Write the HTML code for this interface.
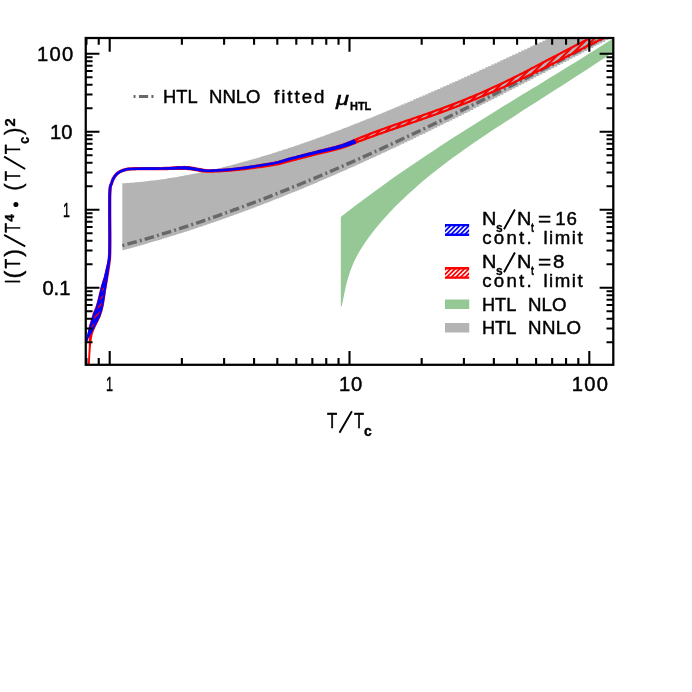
<!DOCTYPE html><html><head><meta charset="utf-8"><title>chart</title><style>
html,body{margin:0;padding:0;background:#fff}
#w{position:relative;width:692px;height:692px;overflow:hidden;background:#fff;font-family:"Liberation Sans",sans-serif;color:#000}
.t{position:absolute;white-space:pre;line-height:1;transform-origin:0 0}
</style></head><body><div id="w">
<svg width="692" height="692" viewBox="0 0 692 692" style="position:absolute;left:0;top:0">
<defs><clipPath id="cp"><rect x="85.75" y="38" width="527.55" height="326.8"/></clipPath>
</defs>
<rect width="692" height="692" fill="#fff"/>
<g clip-path="url(#cp)">
<path d="M122.30,183.33V183.33H124.10V183.20H125.90V183.07H127.70V182.94H129.50V182.80H131.30V182.67H133.10V182.53H134.90V182.35H136.70V182.17H138.50V182.00H140.30V181.82H142.10V181.65H143.90V181.47H145.70V181.25H147.50V181.04H149.30V180.82H151.10V180.60H152.90V180.39H154.70V180.17H156.50V179.92H158.30V179.66H160.10V179.41H161.90V179.15H163.70V178.89H165.50V178.64H167.30V178.36H169.10V178.07H170.90V177.77H172.70V177.48H174.50V177.18H176.30V176.89H178.10V176.58H179.90V176.25H181.70V175.92H183.50V175.59H185.30V175.26H187.10V174.93H188.90V174.60H190.70V174.23H192.50V173.87H194.30V173.50H196.10V173.14H197.90V172.77H199.70V172.41H201.50V172.01H203.30V171.62H205.10V171.22H206.90V170.82H208.70V170.42H210.50V170.02H212.30V169.61H214.10V169.18H215.90V168.75H217.70V168.32H219.50V167.89H221.30V167.46H223.10V167.02H224.90V166.56H226.70V166.10H228.50V165.64H230.30V165.18H232.10V164.72H233.90V164.25H235.70V163.77H237.50V163.28H239.30V162.79H241.10V162.30H242.90V161.81H244.70V161.33H246.50V160.81H248.30V160.30H250.10V159.78H251.90V159.27H253.70V158.75H255.50V158.24H257.30V157.70H259.10V157.16H260.90V156.62H262.70V156.08H264.50V155.54H266.30V155.00H268.10V154.44H269.90V153.88H271.70V153.31H273.50V152.75H275.30V152.18H277.10V151.62H278.90V151.05H280.70V150.46H282.50V149.87H284.30V149.28H286.10V148.69H287.90V148.10H289.70V147.51H291.50V146.90H293.30V146.29H295.10V145.68H296.90V145.07H298.70V144.46H300.50V143.85H302.30V143.22H304.10V142.59H305.90V141.96H307.70V141.33H309.50V140.70H311.30V140.07H313.10V139.43H314.90V138.77H316.70V138.12H318.50V137.47H320.30V136.82H322.10V136.17H323.90V135.52H325.70V134.85H327.50V134.18H329.30V133.51H331.10V132.84H332.90V132.17H334.70V131.50H336.50V130.81H338.30V130.13H340.10V129.44H341.90V128.76H343.70V128.07H345.50V127.38H347.30V126.68H349.10V125.98H350.90V125.28H352.70V124.58H354.50V123.87H356.30V123.17H358.10V122.46H359.90V121.74H361.70V121.02H363.50V120.31H365.30V119.59H367.10V118.87H368.90V118.15H370.70V117.42H372.50V116.69H374.30V115.95H376.10V115.22H377.90V114.49H379.70V113.76H381.50V113.01H383.30V112.27H385.10V111.52H386.90V110.78H388.70V110.03H390.50V109.29H392.30V108.53H394.10V107.78H395.90V107.02H397.70V106.26H399.50V105.51H401.30V104.50H404.30V103.22H407.30V101.93H410.30V100.65H413.30V99.37H416.30V98.07H419.30V96.77H422.30V95.48H425.30V94.17H428.30V92.86H431.30V91.54H434.30V90.23H437.30V88.90H440.30V87.57H443.30V86.24H446.30V84.91H449.30V83.57H452.30V82.23H455.30V80.89H458.30V79.54H461.30V78.19H464.30V76.83H467.30V75.48H470.30V74.12H473.30V72.75H476.30V71.38H479.30V70.02H482.30V68.64H485.30V67.27H488.30V65.89H491.30V64.51H494.30V63.13H497.30V61.74H500.30V60.36H503.30V58.97H506.30V57.58H509.30V56.18H512.30V54.79H515.30V53.39H518.30V51.99H521.30V50.59H524.30V49.19H527.30V47.78H530.30V46.37H533.30V44.96H536.30V43.55H539.30V42.14H542.30V40.73H545.30V39.31H548.30V37.90H551.30V36.48H554.30V35.06H557.30V33.64H560.30V32.22H563.30V30.79H566.30V29.37H569.30V27.95H572.30V26.52H575.30V25.09H578.30V23.66H581.30V22.24H584.30V20.81H587.30V19.37H590.30V17.94H593.30V16.51H596.30V15.08H599.30V13.64H602.30V12.21H605.30V10.77H608.30V9.33H611.30V8.45H612.00V37.54H611.30V38.51H608.30V40.07H605.30V41.63H602.30V43.19H599.30V44.76H596.30V46.32H593.30V47.89H590.30V49.45H587.30V51.02H584.30V52.58H581.30V54.15H578.30V55.72H575.30V57.28H572.30V58.85H569.30V60.41H566.30V61.98H563.30V63.55H560.30V65.11H557.30V66.67H554.30V68.24H551.30V69.80H548.30V71.36H545.30V72.92H542.30V74.48H539.30V76.04H536.30V77.60H533.30V79.15H530.30V80.71H527.30V82.26H524.30V83.82H521.30V85.36H518.30V86.91H515.30V88.46H512.30V90.01H509.30V91.55H506.30V93.09H503.30V94.63H500.30V96.17H497.30V97.70H494.30V99.23H491.30V100.76H488.30V102.29H485.30V103.81H482.30V105.33H479.30V106.85H476.30V108.37H473.30V109.88H470.30V111.39H467.30V112.90H464.30V114.40H461.30V115.91H458.30V117.40H455.30V118.89H452.30V120.39H449.30V121.88H446.30V123.36H443.30V124.84H440.30V126.32H437.30V127.79H434.30V129.26H431.30V130.72H428.30V132.18H425.30V133.65H422.30V135.09H419.30V136.54H416.30V137.99H413.30V139.43H410.30V140.87H407.30V142.29H404.30V143.72H401.30V144.86H399.50V145.72H397.70V146.57H395.90V147.41H394.10V148.26H392.30V149.10H390.50V149.95H388.70V150.79H386.90V151.64H385.10V152.47H383.30V153.30H381.50V154.14H379.70V154.97H377.90V155.80H376.10V156.64H374.30V157.47H372.50V158.29H370.70V159.11H368.90V159.93H367.10V160.75H365.30V161.57H363.50V162.39H361.70V163.21H359.90V164.02H358.10V164.82H356.30V165.63H354.50V166.44H352.70V167.24H350.90V168.05H349.10V168.86H347.30V169.65H345.50V170.44H343.70V171.23H341.90V172.03H340.10V172.82H338.30V173.61H336.50V174.40H334.70V175.18H332.90V175.96H331.10V176.74H329.30V177.52H327.50V178.29H325.70V179.07H323.90V179.85H322.10V180.61H320.30V181.37H318.50V182.14H316.70V182.90H314.90V183.66H313.10V184.43H311.30V185.19H309.50V185.94H307.70V186.68H305.90V187.43H304.10V188.18H302.30V188.93H300.50V189.67H298.70V190.42H296.90V191.15H295.10V191.88H293.30V192.61H291.50V193.34H289.70V194.08H287.90V194.81H286.10V195.54H284.30V196.25H282.50V196.97H280.70V197.68H278.90V198.40H277.10V199.11H275.30V199.83H273.50V200.54H271.70V201.24H269.90V201.93H268.10V202.63H266.30V203.33H264.50V204.03H262.70V204.73H260.90V205.42H259.10V206.10H257.30V206.78H255.50V207.46H253.70V208.15H251.90V208.83H250.10V209.51H248.30V210.18H246.50V210.85H244.70V211.51H242.90V212.17H241.10V212.84H239.30V213.50H237.50V214.16H235.70V214.82H233.90V215.47H232.10V216.11H230.30V216.76H228.50V217.40H226.70V218.05H224.90V218.69H223.10V219.33H221.30V219.96H219.50V220.59H217.70V221.21H215.90V221.84H214.10V222.47H212.30V223.10H210.50V223.72H208.70V224.32H206.90V224.93H205.10V225.54H203.30V226.15H201.50V226.76H199.70V227.37H197.90V227.97H196.10V228.56H194.30V229.15H192.50V229.74H190.70V230.33H188.90V230.92H187.10V231.51H185.30V232.09H183.50V232.66H181.70V233.23H179.90V233.80H178.10V234.37H176.30V234.94H174.50V235.51H172.70V236.07H170.90V236.62H169.10V237.17H167.30V237.73H165.50V238.28H163.70V238.83H161.90V239.38H160.10V239.92H158.30V240.45H156.50V240.98H154.70V241.51H152.90V242.05H151.10V242.58H149.30V243.11H147.50V243.63H145.70V244.14H143.90V244.65H142.10V245.17H140.30V245.68H138.50V246.19H136.70V246.70H134.90V247.20H133.10V247.69H131.30V248.19H129.50V248.68H127.70V249.17H125.90V249.66H124.10V250.15H122.30Z" fill="#b4b4b4"/>
<path d="M340.80,216.90C342.39,215.66 347.17,211.94 350.36,209.50C353.54,207.05 356.73,204.64 359.92,202.24C363.10,199.85 366.29,197.48 369.48,195.13C372.66,192.79 375.85,190.46 379.03,188.16C382.22,185.86 385.41,183.57 388.59,181.31C391.78,179.05 394.97,176.81 398.15,174.58C401.34,172.36 404.52,170.16 407.71,167.97C410.90,165.78 414.08,163.61 417.27,161.46C420.46,159.30 423.64,157.17 426.83,155.04C430.01,152.92 433.20,150.81 436.39,148.72C439.57,146.62 442.76,144.54 445.94,142.47C449.13,140.41 452.32,138.35 455.50,136.31C458.69,134.26 461.88,132.23 465.06,130.20C468.25,128.18 471.43,126.17 474.62,124.16C477.81,122.16 480.99,120.16 484.18,118.17C487.37,116.18 490.55,114.20 493.74,112.22C496.92,110.25 500.11,108.28 503.30,106.31C506.48,104.35 509.67,102.39 512.86,100.43C516.04,98.47 519.23,96.52 522.41,94.57C525.60,92.62 528.79,90.67 531.97,88.72C535.16,86.78 538.34,84.83 541.53,82.88C544.72,80.94 547.90,78.99 551.09,77.04C554.28,75.09 557.46,73.14 560.65,71.19C563.83,69.24 567.02,67.28 570.21,65.32C573.39,63.36 576.58,61.40 579.77,59.43C582.95,57.46 586.14,55.49 589.32,53.51C592.51,51.53 595.70,49.54 598.88,47.55C602.07,45.55 605.26,43.55 608.44,41.54C611.63,39.53 616.41,36.49 618.00,35.48L618.00,49.06C615.92,50.44 609.65,54.63 605.54,57.34C601.44,60.05 597.38,62.71 593.37,65.33C589.36,67.96 585.40,70.53 581.49,73.06C577.58,75.60 573.71,78.09 569.89,80.55C566.07,83.00 562.30,85.42 558.58,87.80C554.86,90.18 551.18,92.53 547.55,94.84C543.93,97.16 540.35,99.44 536.82,101.69C533.28,103.94 529.80,106.17 526.36,108.37C522.93,110.56 519.54,112.73 516.20,114.88C512.86,117.03 509.56,119.16 506.32,121.26C503.07,123.37 499.88,125.45 496.73,127.52C493.58,129.59 490.47,131.64 487.42,133.68C484.36,135.72 481.36,137.73 478.40,139.74C475.44,141.76 472.53,143.75 469.66,145.74C466.80,147.73 463.98,149.70 461.22,151.67C458.45,153.64 455.73,155.61 453.05,157.56C450.38,159.52 447.76,161.47 445.18,163.42C442.60,165.36 440.07,167.31 437.59,169.25C435.11,171.18 432.68,173.12 430.29,175.05C427.90,176.99 425.56,178.92 423.27,180.85C420.98,182.78 418.74,184.70 416.54,186.63C414.35,188.55 412.20,190.48 410.10,192.40C408.00,194.32 405.95,196.23 403.94,198.15C401.94,200.06 399.98,201.97 398.07,203.87C396.16,205.77 394.30,207.67 392.49,209.56C390.68,211.46 388.91,213.34 387.19,215.22C385.47,217.09 383.80,218.96 382.18,220.82C380.56,222.68 378.98,224.52 377.45,226.36C375.93,228.20 374.45,230.03 373.02,231.85C371.58,233.67 370.20,235.48 368.86,237.29C367.53,239.10 366.24,240.90 365.00,242.71C363.76,244.52 362.56,246.32 361.42,248.15C360.27,249.97 359.18,251.80 358.12,253.68C357.07,255.55 356.07,257.44 355.12,259.40C354.16,261.36 353.26,263.35 352.40,265.43C351.54,267.51 350.73,269.66 349.96,271.89C349.20,274.12 348.48,276.44 347.82,278.81C347.15,281.17 346.53,283.66 345.95,286.08C345.38,288.49 344.86,291.02 344.38,293.29C343.90,295.55 343.47,297.84 343.09,299.67C342.71,301.51 342.38,303.14 342.09,304.28C341.80,305.43 341.56,306.10 341.37,306.54C341.18,306.98 341.04,306.89 340.94,306.93C340.85,306.97 340.82,306.82 340.80,306.80Z" fill="#96c896"/>
<path d="M122.30,245.60C124.37,245.03 130.57,243.35 134.70,242.19C138.84,241.03 142.97,239.84 147.11,238.63C151.24,237.43 155.37,236.19 159.51,234.94C163.64,233.68 167.78,232.40 171.91,231.10C176.04,229.80 180.18,228.48 184.31,227.13C188.45,225.79 192.58,224.42 196.72,223.03C200.85,221.64 204.98,220.23 209.12,218.80C213.25,217.37 217.39,215.92 221.52,214.45C225.65,212.98 229.79,211.48 233.92,209.97C238.06,208.46 242.19,206.93 246.33,205.38C250.46,203.83 254.59,202.26 258.73,200.67C262.86,199.09 267.00,197.48 271.13,195.85C275.26,194.23 279.40,192.59 283.53,190.93C287.67,189.27 291.80,187.59 295.94,185.90C300.07,184.21 304.20,182.50 308.34,180.77C312.47,179.05 316.61,177.31 320.74,175.55C324.88,173.79 329.01,172.02 333.14,170.23C337.28,168.44 341.41,166.64 345.55,164.82C349.68,163.00 353.81,161.17 357.95,159.32C362.08,157.48 366.22,155.62 370.35,153.75C374.49,151.87 378.62,149.99 382.75,148.09C386.89,146.19 391.02,144.28 395.16,142.35C399.29,140.43 403.42,138.49 407.56,136.55C411.69,134.60 415.83,132.64 419.96,130.67C424.10,128.70 428.23,126.72 432.36,124.73C436.50,122.74 440.63,120.73 444.77,118.72C448.90,116.71 453.04,114.69 457.17,112.66C461.30,110.63 465.44,108.59 469.57,106.54C473.71,104.49 477.84,102.43 481.97,100.37C486.11,98.30 490.24,96.23 494.38,94.15C498.51,92.07 502.65,89.98 506.78,87.88C510.91,85.79 515.05,83.69 519.18,81.58C523.32,79.47 527.45,77.35 531.58,75.23C535.72,73.11 539.85,70.98 543.99,68.85C548.12,66.72 552.26,64.58 556.39,62.44C560.52,60.30 564.66,58.15 568.79,56.00C572.93,53.85 577.06,51.70 581.19,49.54C585.33,47.38 589.46,45.22 593.60,43.05C597.73,40.89 603.93,37.63 606.00,36.55" fill="none" stroke="#686868" stroke-width="3.4" stroke-dasharray="9.7,3.15,2,3.1" stroke-dashoffset="12.65"/>
<clipPath id="hc1"><polygon points="353.97,140.34 355.16,139.83 356.87,139.12 358.79,138.32 360.60,137.57 362.26,136.89 363.92,136.22 365.58,135.56 367.24,134.90 368.90,134.25 370.56,133.61 372.22,132.96 373.88,132.33 375.54,131.71 377.21,131.10 378.87,130.48 380.53,129.88 382.20,129.28 383.86,128.68 385.52,128.08 387.19,127.49 388.85,126.90 390.51,126.31 392.17,125.73 393.84,125.14 395.50,124.57 397.17,124.00 398.83,123.42 400.49,122.85 402.16,122.28 403.82,121.71 405.49,121.15 407.15,120.58 408.81,120.01 410.48,119.44 412.14,118.87 413.80,118.30 415.47,117.73 417.13,117.16 418.79,116.59 420.45,116.01 422.12,115.44 423.78,114.86 425.44,114.28 427.10,113.70 428.77,113.11 430.43,112.53 432.09,111.94 433.75,111.35 435.41,110.75 437.07,110.15 438.74,109.55 440.40,108.95 442.06,108.34 443.72,107.74 445.38,107.12 447.04,106.51 448.70,105.88 450.36,105.26 452.02,104.63 453.68,104.00 455.34,103.36 457.00,102.71 458.66,102.06 460.31,101.40 461.97,100.74 463.63,100.08 465.29,99.41 466.94,98.74 468.60,98.06 470.26,97.38 471.91,96.69 473.57,96.00 475.23,95.31 476.88,94.61 478.54,93.90 480.20,93.19 481.85,92.47 483.50,91.74 485.16,91.01 486.81,90.27 488.46,89.53 490.11,88.79 491.77,88.03 493.42,87.28 495.07,86.52 496.72,85.76 498.38,84.99 500.03,84.21 501.68,83.44 503.33,82.65 504.98,81.87 506.64,81.08 508.29,80.28 509.93,79.47 511.58,78.66 513.23,77.85 514.88,77.02 516.53,76.20 518.17,75.37 519.82,74.53 521.47,73.70 523.11,72.86 524.76,72.01 526.41,71.16 528.05,70.31 529.70,69.46 531.35,68.60 533.00,67.74 534.65,66.89 536.30,66.03 537.95,65.17 539.60,64.30 541.25,63.44 542.90,62.57 544.55,61.70 546.20,60.83 547.86,59.96 549.51,59.09 551.16,58.21 552.81,57.34 554.47,56.47 556.13,55.60 557.79,54.73 559.45,53.86 561.11,53.00 562.77,52.13 564.43,51.26 566.08,50.39 567.74,49.52 569.40,48.65 571.06,47.79 572.72,46.92 574.39,46.06 576.05,45.19 577.71,44.33 579.37,43.48 581.04,42.63 582.70,41.78 584.37,40.94 586.04,40.10 587.71,39.27 589.37,38.43 591.04,37.60 592.71,36.78 594.38,35.95 596.04,35.13 597.71,34.32 599.38,33.51 601.05,32.71 602.72,31.92 604.39,31.13 606.07,30.34 607.90,29.50 609.83,28.63 611.55,27.85 612.74,27.31 615.26,32.86 614.06,33.40 612.35,34.18 610.43,35.05 608.63,35.88 606.97,36.65 605.32,37.42 603.66,38.20 602.00,38.99 600.35,39.78 598.69,40.58 597.03,41.38 595.37,42.19 593.71,43.00 592.05,43.82 590.39,44.64 588.73,45.47 587.07,46.30 585.41,47.14 583.75,47.98 582.09,48.82 580.43,49.66 578.76,50.50 577.10,51.34 575.43,52.19 573.76,53.03 572.10,53.88 570.43,54.72 568.76,55.57 567.09,56.42 565.43,57.27 563.76,58.13 562.09,58.98 560.42,59.83 558.75,60.68 557.09,61.53 555.42,62.38 553.74,63.22 552.07,64.06 550.39,64.90 548.72,65.73 547.04,66.57 545.37,67.40 543.69,68.23 542.02,69.06 540.34,69.89 538.66,70.71 536.99,71.53 535.31,72.35 533.63,73.16 531.95,73.97 530.27,74.77 528.59,75.57 526.91,76.37 525.23,77.17 523.55,77.96 521.87,78.74 520.19,79.53 518.51,80.31 516.83,81.09 515.15,81.86 513.47,82.63 511.80,83.40 510.12,84.17 508.44,84.93 506.77,85.69 505.09,86.45 503.42,87.21 501.74,87.96 500.07,88.70 498.39,89.44 496.72,90.18 495.04,90.91 493.37,91.64 491.69,92.37 490.02,93.08 488.35,93.80 486.67,94.51 485.00,95.21 483.32,95.91 481.65,96.61 479.98,97.31 478.31,98.00 476.64,98.69 474.97,99.38 473.30,100.06 471.63,100.74 469.96,101.41 468.29,102.08 466.62,102.74 464.95,103.40 463.28,104.05 461.61,104.71 459.94,105.35 458.27,105.99 456.60,106.63 454.93,107.27 453.27,107.90 451.60,108.54 449.93,109.16 448.27,109.79 446.60,110.41 444.93,111.03 443.27,111.64 441.60,112.26 439.94,112.86 438.27,113.47 436.61,114.07 434.94,114.67 433.28,115.27 431.61,115.86 429.95,116.45 428.28,117.04 426.62,117.63 424.95,118.21 423.29,118.79 421.62,119.37 419.96,119.95 418.29,120.53 416.63,121.10 414.97,121.68 413.30,122.25 411.64,122.83 409.97,123.40 408.31,123.97 406.65,124.54 404.99,125.11 403.32,125.68 401.66,126.26 400.00,126.83 398.33,127.40 396.67,127.97 395.01,128.54 393.35,129.11 391.68,129.68 390.02,130.25 388.35,130.82 386.69,131.39 385.02,131.97 383.36,132.55 381.70,133.14 380.03,133.72 378.37,134.31 376.71,134.90 375.04,135.50 373.37,136.09 371.71,136.68 370.04,137.28 368.37,137.88 366.70,138.49 365.04,139.10 363.37,139.72 361.70,140.35 359.88,141.05 357.95,141.80 356.23,142.47 355.03,142.94"/></clipPath><path clip-path="url(#hc1)" d="M231.54,142.94l115.63,-115.63M238.34,142.94l115.63,-115.63M245.14,142.94l115.63,-115.63M251.94,142.94l115.63,-115.63M258.74,142.94l115.63,-115.63M265.54,142.94l115.63,-115.63M272.34,142.94l115.63,-115.63M279.14,142.94l115.63,-115.63M285.94,142.94l115.63,-115.63M292.74,142.94l115.63,-115.63M299.54,142.94l115.63,-115.63M306.34,142.94l115.63,-115.63M313.14,142.94l115.63,-115.63M319.94,142.94l115.63,-115.63M326.74,142.94l115.63,-115.63M333.54,142.94l115.63,-115.63M340.34,142.94l115.63,-115.63M347.14,142.94l115.63,-115.63M353.94,142.94l115.63,-115.63M360.74,142.94l115.63,-115.63M367.54,142.94l115.63,-115.63M374.34,142.94l115.63,-115.63M381.14,142.94l115.63,-115.63M387.94,142.94l115.63,-115.63M394.74,142.94l115.63,-115.63M401.54,142.94l115.63,-115.63M408.34,142.94l115.63,-115.63M415.14,142.94l115.63,-115.63M421.94,142.94l115.63,-115.63M428.74,142.94l115.63,-115.63M435.54,142.94l115.63,-115.63M442.34,142.94l115.63,-115.63M449.14,142.94l115.63,-115.63M455.94,142.94l115.63,-115.63M462.74,142.94l115.63,-115.63M469.54,142.94l115.63,-115.63M476.34,142.94l115.63,-115.63M483.14,142.94l115.63,-115.63M489.94,142.94l115.63,-115.63M496.74,142.94l115.63,-115.63M503.54,142.94l115.63,-115.63M510.34,142.94l115.63,-115.63M517.14,142.94l115.63,-115.63M523.94,142.94l115.63,-115.63M530.74,142.94l115.63,-115.63M537.54,142.94l115.63,-115.63M544.34,142.94l115.63,-115.63M551.14,142.94l115.63,-115.63M557.94,142.94l115.63,-115.63M564.74,142.94l115.63,-115.63M571.54,142.94l115.63,-115.63M578.34,142.94l115.63,-115.63M585.14,142.94l115.63,-115.63M591.94,142.94l115.63,-115.63M598.74,142.94l115.63,-115.63M605.54,142.94l115.63,-115.63M612.34,142.94l115.63,-115.63M619.14,142.94l115.63,-115.63" stroke="#ff0000" stroke-width="2.1" fill="none"/>
<polygon points="353.97,140.34 355.16,139.83 356.87,139.12 358.79,138.32 360.60,137.57 362.26,136.89 363.92,136.22 365.58,135.56 367.24,134.90 368.90,134.25 370.56,133.61 372.22,132.96 373.88,132.33 375.54,131.71 377.21,131.10 378.87,130.48 380.53,129.88 382.20,129.28 383.86,128.68 385.52,128.08 387.19,127.49 388.85,126.90 390.51,126.31 392.17,125.73 393.84,125.14 395.50,124.57 397.17,124.00 398.83,123.42 400.49,122.85 402.16,122.28 403.82,121.71 405.49,121.15 407.15,120.58 408.81,120.01 410.48,119.44 412.14,118.87 413.80,118.30 415.47,117.73 417.13,117.16 418.79,116.59 420.45,116.01 422.12,115.44 423.78,114.86 425.44,114.28 427.10,113.70 428.77,113.11 430.43,112.53 432.09,111.94 433.75,111.35 435.41,110.75 437.07,110.15 438.74,109.55 440.40,108.95 442.06,108.34 443.72,107.74 445.38,107.12 447.04,106.51 448.70,105.88 450.36,105.26 452.02,104.63 453.68,104.00 455.34,103.36 457.00,102.71 458.66,102.06 460.31,101.40 461.97,100.74 463.63,100.08 465.29,99.41 466.94,98.74 468.60,98.06 470.26,97.38 471.91,96.69 473.57,96.00 475.23,95.31 476.88,94.61 478.54,93.90 480.20,93.19 481.85,92.47 483.50,91.74 485.16,91.01 486.81,90.27 488.46,89.53 490.11,88.79 491.77,88.03 493.42,87.28 495.07,86.52 496.72,85.76 498.38,84.99 500.03,84.21 501.68,83.44 503.33,82.65 504.98,81.87 506.64,81.08 508.29,80.28 509.93,79.47 511.58,78.66 513.23,77.85 514.88,77.02 516.53,76.20 518.17,75.37 519.82,74.53 521.47,73.70 523.11,72.86 524.76,72.01 526.41,71.16 528.05,70.31 529.70,69.46 531.35,68.60 533.00,67.74 534.65,66.89 536.30,66.03 537.95,65.17 539.60,64.30 541.25,63.44 542.90,62.57 544.55,61.70 546.20,60.83 547.86,59.96 549.51,59.09 551.16,58.21 552.81,57.34 554.47,56.47 556.13,55.60 557.79,54.73 559.45,53.86 561.11,53.00 562.77,52.13 564.43,51.26 566.08,50.39 567.74,49.52 569.40,48.65 571.06,47.79 572.72,46.92 574.39,46.06 576.05,45.19 577.71,44.33 579.37,43.48 581.04,42.63 582.70,41.78 584.37,40.94 586.04,40.10 587.71,39.27 589.37,38.43 591.04,37.60 592.71,36.78 594.38,35.95 596.04,35.13 597.71,34.32 599.38,33.51 601.05,32.71 602.72,31.92 604.39,31.13 606.07,30.34 607.90,29.50 609.83,28.63 611.55,27.85 612.74,27.31 615.26,32.86 614.06,33.40 612.35,34.18 610.43,35.05 608.63,35.88 606.97,36.65 605.32,37.42 603.66,38.20 602.00,38.99 600.35,39.78 598.69,40.58 597.03,41.38 595.37,42.19 593.71,43.00 592.05,43.82 590.39,44.64 588.73,45.47 587.07,46.30 585.41,47.14 583.75,47.98 582.09,48.82 580.43,49.66 578.76,50.50 577.10,51.34 575.43,52.19 573.76,53.03 572.10,53.88 570.43,54.72 568.76,55.57 567.09,56.42 565.43,57.27 563.76,58.13 562.09,58.98 560.42,59.83 558.75,60.68 557.09,61.53 555.42,62.38 553.74,63.22 552.07,64.06 550.39,64.90 548.72,65.73 547.04,66.57 545.37,67.40 543.69,68.23 542.02,69.06 540.34,69.89 538.66,70.71 536.99,71.53 535.31,72.35 533.63,73.16 531.95,73.97 530.27,74.77 528.59,75.57 526.91,76.37 525.23,77.17 523.55,77.96 521.87,78.74 520.19,79.53 518.51,80.31 516.83,81.09 515.15,81.86 513.47,82.63 511.80,83.40 510.12,84.17 508.44,84.93 506.77,85.69 505.09,86.45 503.42,87.21 501.74,87.96 500.07,88.70 498.39,89.44 496.72,90.18 495.04,90.91 493.37,91.64 491.69,92.37 490.02,93.08 488.35,93.80 486.67,94.51 485.00,95.21 483.32,95.91 481.65,96.61 479.98,97.31 478.31,98.00 476.64,98.69 474.97,99.38 473.30,100.06 471.63,100.74 469.96,101.41 468.29,102.08 466.62,102.74 464.95,103.40 463.28,104.05 461.61,104.71 459.94,105.35 458.27,105.99 456.60,106.63 454.93,107.27 453.27,107.90 451.60,108.54 449.93,109.16 448.27,109.79 446.60,110.41 444.93,111.03 443.27,111.64 441.60,112.26 439.94,112.86 438.27,113.47 436.61,114.07 434.94,114.67 433.28,115.27 431.61,115.86 429.95,116.45 428.28,117.04 426.62,117.63 424.95,118.21 423.29,118.79 421.62,119.37 419.96,119.95 418.29,120.53 416.63,121.10 414.97,121.68 413.30,122.25 411.64,122.83 409.97,123.40 408.31,123.97 406.65,124.54 404.99,125.11 403.32,125.68 401.66,126.26 400.00,126.83 398.33,127.40 396.67,127.97 395.01,128.54 393.35,129.11 391.68,129.68 390.02,130.25 388.35,130.82 386.69,131.39 385.02,131.97 383.36,132.55 381.70,133.14 380.03,133.72 378.37,134.31 376.71,134.90 375.04,135.50 373.37,136.09 371.71,136.68 370.04,137.28 368.37,137.88 366.70,138.49 365.04,139.10 363.37,139.72 361.70,140.35 359.88,141.05 357.95,141.80 356.23,142.47 355.03,142.94" fill="none" stroke="#ff0000" stroke-width="2.2" stroke-linejoin="round"/>
<polygon points="88.65,365.99 88.69,364.99 88.75,363.61 88.82,361.97 88.90,360.18 88.99,358.35 89.07,356.58 89.15,354.99 89.23,353.30 89.32,351.64 89.41,350.02 89.49,348.45 89.58,346.94 89.65,345.49 89.63,343.86 89.59,342.34 89.55,340.89 89.51,339.45 89.50,337.97 89.28,336.56 89.00,335.23 88.78,333.76 88.73,332.01 88.96,329.81 89.23,328.42 89.59,326.89 90.02,325.29 90.51,323.61 91.02,321.90 91.54,320.17 92.06,318.49 92.54,316.87 92.96,315.36 93.32,313.98 93.98,312.36 94.58,310.98 95.11,309.74 95.60,308.57 96.08,307.35 96.57,305.94 97.09,304.25 97.47,303.01 97.85,301.62 98.25,300.11 98.64,298.51 99.04,296.85 99.44,295.17 99.84,293.50 100.23,291.86 100.61,290.28 100.99,288.79 101.35,287.42 101.89,285.54 102.40,283.89 102.89,282.40 103.37,280.99 103.83,279.58 104.30,278.07 104.78,276.39 105.15,274.91 105.52,273.30 105.91,271.60 106.30,269.85 106.68,268.11 107.05,266.42 107.39,264.81 107.70,263.35 107.96,262.06 108.30,259.95 108.49,258.54 108.60,257.12 108.70,254.96 108.75,253.92 108.79,252.98 108.82,252.05 108.85,251.06 108.87,249.95 108.89,248.64 108.91,247.06 108.92,245.14 108.94,242.81 108.95,240.00 108.95,238.95 108.95,237.82 108.95,236.59 108.95,235.27 108.94,233.88 108.94,232.42 108.93,230.90 108.92,229.32 108.91,227.70 108.90,226.03 108.89,224.32 108.88,222.59 108.87,220.84 108.86,219.07 108.85,217.29 108.85,215.52 108.84,213.74 108.83,211.98 108.83,210.25 108.83,208.53 108.82,206.85 108.82,205.21 108.83,203.62 108.83,202.08 108.84,200.60 108.85,199.19 108.86,197.85 108.88,196.59 108.90,195.42 108.92,194.34 108.95,193.35 109.14,189.48 109.38,187.06 109.69,185.60 110.05,184.70 110.42,183.97 110.81,182.90 111.42,180.95 112.12,179.23 112.91,177.67 113.80,176.22 114.78,174.89 115.87,173.70 117.05,172.64 118.32,171.70 119.67,170.87 121.09,170.17 122.63,169.58 124.35,169.09 125.56,168.75 126.58,168.48 127.87,168.27 129.89,168.10 133.16,167.95 134.20,167.92 135.37,167.89 136.65,167.87 138.03,167.85 139.50,167.83 141.05,167.81 142.66,167.80 144.33,167.79 146.03,167.78 147.76,167.77 149.51,167.76 151.26,167.76 152.99,167.75 154.71,167.74 156.38,167.73 158.01,167.72 159.58,167.71 161.08,167.70 162.48,167.69 163.79,167.67 164.98,167.65 167.25,167.56 169.29,167.46 171.14,167.36 172.83,167.24 174.37,167.13 175.81,167.02 177.16,166.92 178.46,166.83 179.73,166.76 180.98,166.70 182.84,166.68 184.33,166.67 185.64,166.69 186.94,166.75 188.39,166.87 190.16,167.06 191.57,167.27 193.13,167.54 194.79,167.86 196.50,168.19 198.24,168.53 199.96,168.86 201.62,169.16 203.18,169.42 204.62,169.61 206.23,169.77 207.64,169.88 208.94,169.93 210.22,169.95 211.59,169.93 213.14,169.90 214.96,169.85 216.28,169.80 217.69,169.73 219.18,169.65 220.73,169.56 222.34,169.47 223.98,169.36 225.65,169.24 227.32,169.12 228.98,168.99 230.61,168.85 232.21,168.70 233.75,168.54 235.25,168.38 236.71,168.21 238.17,168.04 239.63,167.85 241.12,167.66 242.65,167.45 244.24,167.23 245.90,166.99 247.67,166.74 249.54,166.46 250.84,166.26 252.21,166.06 253.66,165.84 255.16,165.61 256.70,165.37 258.28,165.13 259.89,164.88 261.50,164.63 263.12,164.37 264.73,164.11 266.31,163.85 267.86,163.59 269.37,163.33 270.82,163.07 272.21,162.82 273.51,162.57 274.73,162.33 276.57,161.94 278.16,161.58 279.56,161.23 280.84,160.89 282.06,160.54 283.29,160.17 284.60,159.77 286.05,159.34 287.70,158.87 289.61,158.35 290.87,158.02 292.19,157.67 293.59,157.30 295.04,156.91 296.54,156.51 298.09,156.10 299.68,155.68 301.29,155.25 302.92,154.81 304.56,154.38 306.21,153.94 307.85,153.51 309.48,153.08 311.09,152.66 312.67,152.24 314.21,151.84 315.71,151.45 317.28,151.04 318.87,150.64 320.47,150.24 322.07,149.85 323.66,149.46 325.25,149.07 326.83,148.68 328.39,148.30 329.92,147.92 331.42,147.55 332.89,147.18 334.32,146.81 335.70,146.44 337.03,146.08 338.30,145.73 339.51,145.37 341.37,144.79 343.18,144.18 344.92,143.56 346.57,142.94 348.12,142.34 349.55,141.77 350.86,141.23 352.02,140.75 353.02,140.35 353.85,140.02 355.15,143.38 354.34,143.68 353.33,144.06 352.17,144.52 350.84,145.04 349.37,145.61 347.78,146.21 346.08,146.82 344.28,147.44 342.42,148.05 340.49,148.63 339.24,148.98 337.92,149.34 336.56,149.70 335.15,150.05 333.71,150.41 332.22,150.78 330.71,151.14 329.16,151.51 327.60,151.88 326.02,152.25 324.43,152.63 322.83,153.01 321.24,153.39 319.64,153.77 318.06,154.16 316.49,154.55 315.00,154.93 313.46,155.32 311.88,155.72 310.27,156.13 308.64,156.55 307.00,156.97 305.35,157.40 303.70,157.82 302.07,158.24 300.46,158.66 298.87,159.07 297.32,159.47 295.81,159.86 294.35,160.23 292.96,160.59 291.63,160.93 290.39,161.25 288.49,161.74 286.85,162.19 285.41,162.60 284.10,162.97 282.84,163.33 281.58,163.67 280.25,164.01 278.80,164.35 277.16,164.70 275.27,165.07 274.02,165.29 272.69,165.52 271.28,165.75 269.81,165.98 268.28,166.21 266.72,166.44 265.12,166.68 263.50,166.91 261.88,167.14 260.25,167.36 258.64,167.58 257.05,167.80 255.50,168.00 253.99,168.20 252.54,168.39 251.16,168.57 249.86,168.74 247.98,168.99 246.21,169.22 244.53,169.43 242.93,169.62 241.38,169.81 239.88,169.98 238.41,170.13 236.94,170.28 235.46,170.43 233.95,170.56 232.39,170.70 230.78,170.83 229.14,170.96 227.46,171.09 225.78,171.20 224.11,171.31 222.46,171.41 220.84,171.50 219.27,171.58 217.77,171.64 216.36,171.70 215.04,171.75 213.21,171.84 211.65,171.92 210.25,171.98 208.91,172.00 207.55,171.99 206.07,171.92 204.38,171.79 202.89,171.63 201.26,171.40 199.56,171.13 197.82,170.83 196.07,170.52 194.36,170.22 192.73,169.94 191.21,169.71 189.84,169.54 188.14,169.34 186.76,169.21 185.54,169.14 184.30,169.10 182.84,169.09 181.02,169.10 179.78,169.09 178.54,169.09 177.26,169.11 175.91,169.14 174.48,169.18 172.92,169.22 171.22,169.26 169.35,169.30 167.30,169.33 165.02,169.35 163.82,169.37 162.50,169.39 161.09,169.40 159.59,169.41 158.02,169.42 156.39,169.43 154.72,169.44 153.00,169.45 151.26,169.46 149.52,169.46 147.77,169.47 146.04,169.48 144.34,169.49 142.67,169.50 141.06,169.51 139.52,169.53 138.05,169.55 136.68,169.57 135.41,169.59 134.26,169.62 133.24,169.65 130.01,169.79 128.04,169.96 126.87,170.16 125.98,170.40 124.85,170.71 123.20,171.18 121.77,171.73 120.49,172.36 119.28,173.10 118.13,173.95 117.07,174.90 116.10,175.97 115.20,177.18 114.39,178.49 113.67,179.93 113.01,181.57 112.39,183.50 112.01,184.56 111.66,185.26 111.35,185.99 111.07,187.27 110.83,189.62 110.65,193.45 110.62,194.40 110.60,195.46 110.58,196.62 110.56,197.87 110.55,199.20 110.54,200.61 110.53,202.09 110.53,203.62 110.52,205.21 110.52,206.85 110.53,208.53 110.53,210.24 110.53,211.98 110.54,213.74 110.55,215.51 110.55,217.28 110.56,219.06 110.57,220.83 110.58,222.58 110.59,224.31 110.60,226.02 110.61,227.69 110.62,229.31 110.63,230.89 110.64,232.42 110.64,233.88 110.65,235.27 110.65,236.58 110.65,237.81 110.65,238.96 110.65,240.00 110.65,242.82 110.64,245.15 110.64,247.07 110.63,248.66 110.62,249.97 110.61,251.10 110.59,252.09 110.56,253.03 110.54,253.99 110.50,255.04 110.42,257.24 110.33,258.72 110.16,260.19 109.84,262.34 109.68,263.67 109.48,265.18 109.25,266.81 108.99,268.54 108.72,270.31 108.43,272.08 108.15,273.82 107.88,275.47 107.62,277.01 107.34,278.77 107.07,280.36 106.80,281.85 106.53,283.32 106.26,284.84 105.97,286.50 105.65,288.38 105.44,289.73 105.21,291.20 104.97,292.79 104.73,294.45 104.47,296.15 104.22,297.87 103.96,299.57 103.69,301.24 103.43,302.84 103.17,304.36 102.91,305.75 102.48,307.61 102.09,309.20 101.70,310.62 101.30,311.95 100.88,313.28 100.42,314.73 99.88,316.42 99.25,317.73 98.55,319.18 97.80,320.72 97.02,322.31 96.24,323.92 95.48,325.50 94.76,327.03 94.09,328.46 93.52,329.71 93.04,330.79 92.36,332.62 91.92,334.09 91.64,335.35 91.40,336.62 91.10,338.03 90.89,339.51 90.71,340.95 90.53,342.39 90.35,343.89 90.15,345.51 90.04,346.96 89.93,348.48 89.81,350.04 89.68,351.66 89.56,353.32 89.45,355.01 89.37,356.60 89.29,358.36 89.20,360.19 89.12,361.98 89.05,363.62 88.99,365.00 88.95,366.01" fill="#ff0000" stroke="#ff0000" stroke-width="1.6" stroke-linejoin="round"/>
<clipPath id="hc2"><polygon points="86.28,342.49 86.48,341.45 86.81,339.90 87.38,337.99 87.69,336.72 87.97,335.33 88.33,333.78 88.80,331.97 89.40,329.80 89.76,328.52 90.20,327.07 90.68,325.50 91.20,323.85 91.74,322.15 92.27,320.43 92.79,318.75 93.28,317.13 93.71,315.61 94.08,314.23 94.74,312.60 95.31,311.22 95.81,309.99 96.27,308.81 96.71,307.56 97.17,306.13 97.67,304.41 98.05,303.15 98.43,301.75 98.82,300.23 99.22,298.62 99.62,296.96 100.01,295.28 100.41,293.61 100.79,291.97 101.17,290.40 101.54,288.91 101.89,287.56 102.39,285.69 102.87,284.05 103.32,282.56 103.75,281.14 104.18,279.72 104.61,278.20 105.07,276.51 105.44,275.02 105.82,273.40 106.22,271.70 106.62,269.95 107.01,268.21 107.39,266.52 107.75,264.91 108.07,263.44 108.35,262.14 108.70,260.02 108.90,258.59 109.03,257.15 109.15,254.98 109.21,253.94 109.26,252.99 109.30,252.06 109.34,251.07 109.38,249.96 109.41,248.64 109.43,247.06 109.46,245.14 109.48,242.81 109.50,240.00 109.50,238.95 109.50,237.81 109.50,236.58 109.50,235.27 109.50,233.88 109.49,232.42 109.48,230.90 109.48,229.32 109.47,227.69 109.46,226.03 109.45,224.32 109.44,222.59 109.43,220.84 109.42,219.07 109.41,217.29 109.40,215.51 109.39,213.74 109.39,211.98 109.38,210.24 109.38,208.53 109.38,206.85 109.38,205.21 109.38,203.62 109.38,202.08 109.39,200.60 109.40,199.19 109.41,197.86 109.43,196.60 109.45,195.43 109.47,194.36 109.50,193.38 109.68,189.52 109.93,187.13 110.23,185.73 110.57,184.88 110.93,184.16 111.32,183.09 111.94,181.15 112.62,179.46 113.39,177.94 114.25,176.53 115.21,175.24 116.26,174.09 117.40,173.07 118.63,172.15 119.94,171.35 121.31,170.67 122.82,170.10 124.51,169.61 125.70,169.29 126.67,169.03 127.92,168.82 129.93,168.65 133.18,168.50 134.22,168.47 135.38,168.44 136.66,168.42 138.04,168.40 139.51,168.38 141.05,168.36 142.66,168.35 144.33,168.34 146.03,168.33 147.76,168.32 149.51,168.31 151.26,168.31 153.00,168.30 154.71,168.29 156.39,168.28 158.02,168.27 159.59,168.26 161.08,168.25 162.49,168.24 163.80,168.22 164.99,168.20 167.26,168.11 169.31,168.00 171.16,167.89 172.85,167.77 174.40,167.66 175.84,167.54 177.19,167.44 178.48,167.34 179.74,167.26 180.99,167.20 182.84,167.20 184.33,167.21 185.62,167.25 186.90,167.33 188.33,167.46 190.08,167.65 191.47,167.87 193.02,168.14 194.66,168.46 196.37,168.79 198.10,169.12 199.82,169.45 201.49,169.75 203.07,170.01 204.53,170.20 206.17,170.33 207.60,170.40 208.92,170.42 210.23,170.40 211.61,170.35 213.17,170.28 214.99,170.20 216.30,170.14 217.71,170.07 219.21,169.99 220.77,169.89 222.38,169.79 224.03,169.68 225.69,169.56 227.37,169.43 229.03,169.30 230.67,169.15 232.27,169.00 233.82,168.85 235.32,168.69 236.79,168.53 238.25,168.36 239.72,168.18 241.21,167.99 242.75,167.78 244.34,167.57 246.01,167.33 247.78,167.08 249.66,166.80 250.96,166.61 252.33,166.40 253.78,166.18 255.28,165.96 256.83,165.72 258.41,165.48 260.02,165.23 261.64,164.98 263.26,164.72 264.87,164.46 266.46,164.20 268.02,163.93 269.53,163.67 270.99,163.41 272.38,163.16 273.70,162.90 274.93,162.66 276.79,162.25 278.40,161.87 279.81,161.49 281.11,161.12 282.34,160.74 283.58,160.35 284.90,159.94 286.35,159.50 287.99,159.03 289.90,158.51 291.15,158.18 292.47,157.84 293.87,157.47 295.32,157.10 296.82,156.71 298.37,156.32 299.95,155.91 301.57,155.50 303.20,155.09 304.84,154.67 306.48,154.26 308.12,153.84 309.75,153.43 311.36,153.03 312.94,152.63 314.47,152.24 315.97,151.87 317.54,151.47 319.12,151.07 320.71,150.68 322.31,150.29 323.90,149.90 325.49,149.51 327.06,149.13 328.62,148.75 330.15,148.37 331.66,148.00 333.13,147.63 334.56,147.26 335.95,146.90 337.28,146.54 338.56,146.18 339.78,145.83 341.65,145.24 343.46,144.62 345.20,144.00 346.85,143.38 348.39,142.77 349.82,142.20 351.12,141.66 352.27,141.18 353.26,140.76 354.07,140.43 354.93,142.77 354.10,143.02 353.08,143.35 351.90,143.75 350.57,144.21 349.09,144.70 347.50,145.23 345.80,145.77 344.01,146.32 342.14,146.85 340.22,147.37 338.98,147.70 337.67,148.03 336.32,148.36 334.92,148.69 333.47,149.03 331.99,149.37 330.47,149.72 328.93,150.06 327.36,150.41 325.78,150.77 324.19,151.12 322.59,151.48 320.99,151.84 319.39,152.20 317.80,152.57 316.23,152.93 314.73,153.29 313.19,153.66 311.61,154.04 310.00,154.43 308.37,154.82 306.72,155.22 305.07,155.62 303.43,156.02 301.79,156.42 300.18,156.81 298.59,157.19 297.04,157.57 295.53,157.94 294.07,158.30 292.68,158.65 291.35,158.97 290.10,159.29 288.20,159.79 286.56,160.25 285.12,160.68 283.81,161.08 282.56,161.46 281.31,161.83 280.00,162.20 278.57,162.57 276.95,162.95 275.07,163.34 273.83,163.58 272.51,163.83 271.11,164.08 269.65,164.34 268.13,164.59 266.57,164.85 264.97,165.11 263.36,165.36 261.74,165.62 260.12,165.86 258.51,166.11 256.92,166.34 255.37,166.57 253.87,166.80 252.42,167.01 251.04,167.21 249.74,167.40 247.86,167.67 246.10,167.93 244.42,168.16 242.83,168.38 241.29,168.58 239.79,168.77 238.32,168.95 236.86,169.12 235.38,169.28 233.88,169.44 232.33,169.60 230.73,169.75 229.08,169.89 227.41,170.03 225.74,170.16 224.07,170.28 222.42,170.39 220.80,170.49 219.24,170.59 217.75,170.67 216.33,170.74 215.01,170.80 213.19,170.88 211.63,170.95 210.24,171.00 208.92,171.02 207.58,171.00 206.13,170.93 204.47,170.80 202.99,170.68 201.39,170.50 199.69,170.27 197.95,170.02 196.20,169.76 194.49,169.51 192.84,169.28 191.31,169.08 189.92,168.95 188.20,168.77 186.80,168.66 185.57,168.60 184.30,168.58 182.84,168.58 181.01,168.60 179.77,168.58 178.52,168.58 177.24,168.60 175.89,168.62 174.45,168.66 172.89,168.69 171.20,168.73 169.34,168.76 167.28,168.79 165.01,168.80 163.81,168.82 162.50,168.84 161.09,168.85 159.59,168.86 158.02,168.87 156.39,168.88 154.71,168.89 153.00,168.90 151.26,168.91 149.51,168.91 147.77,168.92 146.04,168.93 144.33,168.94 142.67,168.95 141.06,168.96 139.51,168.98 138.05,169.00 136.67,169.02 135.40,169.04 134.24,169.07 133.22,169.10 129.97,169.25 127.99,169.41 126.78,169.62 125.84,169.87 124.69,170.19 123.02,170.67 121.55,171.23 120.22,171.88 118.97,172.65 117.78,173.53 116.68,174.51 115.67,175.62 114.75,176.87 113.91,178.23 113.17,179.70 112.49,181.37 111.88,183.31 111.50,184.37 111.14,185.08 110.81,185.86 110.52,187.20 110.28,189.58 110.10,193.42 110.07,194.38 110.05,195.45 110.03,196.61 110.01,197.86 110.00,199.20 109.99,200.61 109.98,202.08 109.98,203.62 109.98,205.21 109.98,206.85 109.98,208.53 109.98,210.24 109.99,211.98 109.99,213.74 110.00,215.51 110.01,217.29 110.02,219.06 110.03,220.83 110.04,222.59 110.05,224.32 110.06,226.02 110.07,227.69 110.08,229.32 110.08,230.90 110.09,232.42 110.10,233.88 110.10,235.27 110.10,236.58 110.10,237.81 110.10,238.96 110.10,240.00 110.09,242.82 110.08,245.15 110.06,247.07 110.05,248.65 110.02,249.97 110.00,251.09 109.97,252.08 109.94,253.02 109.90,253.98 109.85,255.02 109.73,257.21 109.60,258.67 109.39,260.12 109.05,262.26 108.89,263.58 108.70,265.08 108.47,266.71 108.23,268.44 107.96,270.21 107.69,271.98 107.42,273.72 107.17,275.37 106.93,276.89 106.67,278.64 106.42,280.22 106.19,281.70 105.95,283.16 105.70,284.69 105.42,286.35 105.11,288.24 104.90,289.60 104.67,291.09 104.43,292.68 104.18,294.34 103.92,296.04 103.66,297.76 103.39,299.46 103.12,301.12 102.85,302.71 102.59,304.22 102.33,305.59 101.90,307.42 101.51,308.98 101.12,310.38 100.72,311.71 100.29,313.04 99.80,314.49 99.22,316.17 98.57,317.48 97.86,318.92 97.10,320.46 96.30,322.05 95.49,323.67 94.69,325.27 93.90,326.81 93.14,328.28 92.44,329.62 91.80,330.80 90.68,332.76 89.70,334.35 88.82,335.68 88.03,336.85 87.42,338.01 86.86,339.91 86.53,341.46 86.32,342.51"/></clipPath><path clip-path="url(#hc2)" d="M-122.30,342.51l202.08,-202.08M-115.80,342.51l202.08,-202.08M-109.30,342.51l202.08,-202.08M-102.80,342.51l202.08,-202.08M-96.30,342.51l202.08,-202.08M-89.80,342.51l202.08,-202.08M-83.30,342.51l202.08,-202.08M-76.80,342.51l202.08,-202.08M-70.30,342.51l202.08,-202.08M-63.80,342.51l202.08,-202.08M-57.30,342.51l202.08,-202.08M-50.80,342.51l202.08,-202.08M-44.30,342.51l202.08,-202.08M-37.80,342.51l202.08,-202.08M-31.30,342.51l202.08,-202.08M-24.80,342.51l202.08,-202.08M-18.30,342.51l202.08,-202.08M-11.80,342.51l202.08,-202.08M-5.30,342.51l202.08,-202.08M1.20,342.51l202.08,-202.08M7.70,342.51l202.08,-202.08M14.20,342.51l202.08,-202.08M20.70,342.51l202.08,-202.08M27.20,342.51l202.08,-202.08M33.70,342.51l202.08,-202.08M40.20,342.51l202.08,-202.08M46.70,342.51l202.08,-202.08M53.20,342.51l202.08,-202.08M59.70,342.51l202.08,-202.08M66.20,342.51l202.08,-202.08M72.70,342.51l202.08,-202.08M79.20,342.51l202.08,-202.08M85.70,342.51l202.08,-202.08M92.20,342.51l202.08,-202.08M98.70,342.51l202.08,-202.08M105.20,342.51l202.08,-202.08M111.70,342.51l202.08,-202.08M118.20,342.51l202.08,-202.08M124.70,342.51l202.08,-202.08M131.20,342.51l202.08,-202.08M137.70,342.51l202.08,-202.08M144.20,342.51l202.08,-202.08M150.70,342.51l202.08,-202.08M157.20,342.51l202.08,-202.08M163.70,342.51l202.08,-202.08M170.20,342.51l202.08,-202.08M176.70,342.51l202.08,-202.08M183.20,342.51l202.08,-202.08M189.70,342.51l202.08,-202.08M196.20,342.51l202.08,-202.08M202.70,342.51l202.08,-202.08M209.20,342.51l202.08,-202.08M215.70,342.51l202.08,-202.08M222.20,342.51l202.08,-202.08M228.70,342.51l202.08,-202.08M235.20,342.51l202.08,-202.08M241.70,342.51l202.08,-202.08M248.20,342.51l202.08,-202.08M254.70,342.51l202.08,-202.08M261.20,342.51l202.08,-202.08M267.70,342.51l202.08,-202.08M274.20,342.51l202.08,-202.08M280.70,342.51l202.08,-202.08M287.20,342.51l202.08,-202.08M293.70,342.51l202.08,-202.08M300.20,342.51l202.08,-202.08M306.70,342.51l202.08,-202.08M313.20,342.51l202.08,-202.08M319.70,342.51l202.08,-202.08M326.20,342.51l202.08,-202.08M332.70,342.51l202.08,-202.08M339.20,342.51l202.08,-202.08M345.70,342.51l202.08,-202.08M352.20,342.51l202.08,-202.08M358.70,342.51l202.08,-202.08" stroke="#0000ff" stroke-width="3.1" fill="none"/>
<polygon points="86.28,342.49 86.48,341.45 86.81,339.90 87.38,337.99 87.69,336.72 87.97,335.33 88.33,333.78 88.80,331.97 89.40,329.80 89.76,328.52 90.20,327.07 90.68,325.50 91.20,323.85 91.74,322.15 92.27,320.43 92.79,318.75 93.28,317.13 93.71,315.61 94.08,314.23 94.74,312.60 95.31,311.22 95.81,309.99 96.27,308.81 96.71,307.56 97.17,306.13 97.67,304.41 98.05,303.15 98.43,301.75 98.82,300.23 99.22,298.62 99.62,296.96 100.01,295.28 100.41,293.61 100.79,291.97 101.17,290.40 101.54,288.91 101.89,287.56 102.39,285.69 102.87,284.05 103.32,282.56 103.75,281.14 104.18,279.72 104.61,278.20 105.07,276.51 105.44,275.02 105.82,273.40 106.22,271.70 106.62,269.95 107.01,268.21 107.39,266.52 107.75,264.91 108.07,263.44 108.35,262.14 108.70,260.02 108.90,258.59 109.03,257.15 109.15,254.98 109.21,253.94 109.26,252.99 109.30,252.06 109.34,251.07 109.38,249.96 109.41,248.64 109.43,247.06 109.46,245.14 109.48,242.81 109.50,240.00 109.50,238.95 109.50,237.81 109.50,236.58 109.50,235.27 109.50,233.88 109.49,232.42 109.48,230.90 109.48,229.32 109.47,227.69 109.46,226.03 109.45,224.32 109.44,222.59 109.43,220.84 109.42,219.07 109.41,217.29 109.40,215.51 109.39,213.74 109.39,211.98 109.38,210.24 109.38,208.53 109.38,206.85 109.38,205.21 109.38,203.62 109.38,202.08 109.39,200.60 109.40,199.19 109.41,197.86 109.43,196.60 109.45,195.43 109.47,194.36 109.50,193.38 109.68,189.52 109.93,187.13 110.23,185.73 110.57,184.88 110.93,184.16 111.32,183.09 111.94,181.15 112.62,179.46 113.39,177.94 114.25,176.53 115.21,175.24 116.26,174.09 117.40,173.07 118.63,172.15 119.94,171.35 121.31,170.67 122.82,170.10 124.51,169.61 125.70,169.29 126.67,169.03 127.92,168.82 129.93,168.65 133.18,168.50 134.22,168.47 135.38,168.44 136.66,168.42 138.04,168.40 139.51,168.38 141.05,168.36 142.66,168.35 144.33,168.34 146.03,168.33 147.76,168.32 149.51,168.31 151.26,168.31 153.00,168.30 154.71,168.29 156.39,168.28 158.02,168.27 159.59,168.26 161.08,168.25 162.49,168.24 163.80,168.22 164.99,168.20 167.26,168.11 169.31,168.00 171.16,167.89 172.85,167.77 174.40,167.66 175.84,167.54 177.19,167.44 178.48,167.34 179.74,167.26 180.99,167.20 182.84,167.20 184.33,167.21 185.62,167.25 186.90,167.33 188.33,167.46 190.08,167.65 191.47,167.87 193.02,168.14 194.66,168.46 196.37,168.79 198.10,169.12 199.82,169.45 201.49,169.75 203.07,170.01 204.53,170.20 206.17,170.33 207.60,170.40 208.92,170.42 210.23,170.40 211.61,170.35 213.17,170.28 214.99,170.20 216.30,170.14 217.71,170.07 219.21,169.99 220.77,169.89 222.38,169.79 224.03,169.68 225.69,169.56 227.37,169.43 229.03,169.30 230.67,169.15 232.27,169.00 233.82,168.85 235.32,168.69 236.79,168.53 238.25,168.36 239.72,168.18 241.21,167.99 242.75,167.78 244.34,167.57 246.01,167.33 247.78,167.08 249.66,166.80 250.96,166.61 252.33,166.40 253.78,166.18 255.28,165.96 256.83,165.72 258.41,165.48 260.02,165.23 261.64,164.98 263.26,164.72 264.87,164.46 266.46,164.20 268.02,163.93 269.53,163.67 270.99,163.41 272.38,163.16 273.70,162.90 274.93,162.66 276.79,162.25 278.40,161.87 279.81,161.49 281.11,161.12 282.34,160.74 283.58,160.35 284.90,159.94 286.35,159.50 287.99,159.03 289.90,158.51 291.15,158.18 292.47,157.84 293.87,157.47 295.32,157.10 296.82,156.71 298.37,156.32 299.95,155.91 301.57,155.50 303.20,155.09 304.84,154.67 306.48,154.26 308.12,153.84 309.75,153.43 311.36,153.03 312.94,152.63 314.47,152.24 315.97,151.87 317.54,151.47 319.12,151.07 320.71,150.68 322.31,150.29 323.90,149.90 325.49,149.51 327.06,149.13 328.62,148.75 330.15,148.37 331.66,148.00 333.13,147.63 334.56,147.26 335.95,146.90 337.28,146.54 338.56,146.18 339.78,145.83 341.65,145.24 343.46,144.62 345.20,144.00 346.85,143.38 348.39,142.77 349.82,142.20 351.12,141.66 352.27,141.18 353.26,140.76 354.07,140.43 354.93,142.77 354.10,143.02 353.08,143.35 351.90,143.75 350.57,144.21 349.09,144.70 347.50,145.23 345.80,145.77 344.01,146.32 342.14,146.85 340.22,147.37 338.98,147.70 337.67,148.03 336.32,148.36 334.92,148.69 333.47,149.03 331.99,149.37 330.47,149.72 328.93,150.06 327.36,150.41 325.78,150.77 324.19,151.12 322.59,151.48 320.99,151.84 319.39,152.20 317.80,152.57 316.23,152.93 314.73,153.29 313.19,153.66 311.61,154.04 310.00,154.43 308.37,154.82 306.72,155.22 305.07,155.62 303.43,156.02 301.79,156.42 300.18,156.81 298.59,157.19 297.04,157.57 295.53,157.94 294.07,158.30 292.68,158.65 291.35,158.97 290.10,159.29 288.20,159.79 286.56,160.25 285.12,160.68 283.81,161.08 282.56,161.46 281.31,161.83 280.00,162.20 278.57,162.57 276.95,162.95 275.07,163.34 273.83,163.58 272.51,163.83 271.11,164.08 269.65,164.34 268.13,164.59 266.57,164.85 264.97,165.11 263.36,165.36 261.74,165.62 260.12,165.86 258.51,166.11 256.92,166.34 255.37,166.57 253.87,166.80 252.42,167.01 251.04,167.21 249.74,167.40 247.86,167.67 246.10,167.93 244.42,168.16 242.83,168.38 241.29,168.58 239.79,168.77 238.32,168.95 236.86,169.12 235.38,169.28 233.88,169.44 232.33,169.60 230.73,169.75 229.08,169.89 227.41,170.03 225.74,170.16 224.07,170.28 222.42,170.39 220.80,170.49 219.24,170.59 217.75,170.67 216.33,170.74 215.01,170.80 213.19,170.88 211.63,170.95 210.24,171.00 208.92,171.02 207.58,171.00 206.13,170.93 204.47,170.80 202.99,170.68 201.39,170.50 199.69,170.27 197.95,170.02 196.20,169.76 194.49,169.51 192.84,169.28 191.31,169.08 189.92,168.95 188.20,168.77 186.80,168.66 185.57,168.60 184.30,168.58 182.84,168.58 181.01,168.60 179.77,168.58 178.52,168.58 177.24,168.60 175.89,168.62 174.45,168.66 172.89,168.69 171.20,168.73 169.34,168.76 167.28,168.79 165.01,168.80 163.81,168.82 162.50,168.84 161.09,168.85 159.59,168.86 158.02,168.87 156.39,168.88 154.71,168.89 153.00,168.90 151.26,168.91 149.51,168.91 147.77,168.92 146.04,168.93 144.33,168.94 142.67,168.95 141.06,168.96 139.51,168.98 138.05,169.00 136.67,169.02 135.40,169.04 134.24,169.07 133.22,169.10 129.97,169.25 127.99,169.41 126.78,169.62 125.84,169.87 124.69,170.19 123.02,170.67 121.55,171.23 120.22,171.88 118.97,172.65 117.78,173.53 116.68,174.51 115.67,175.62 114.75,176.87 113.91,178.23 113.17,179.70 112.49,181.37 111.88,183.31 111.50,184.37 111.14,185.08 110.81,185.86 110.52,187.20 110.28,189.58 110.10,193.42 110.07,194.38 110.05,195.45 110.03,196.61 110.01,197.86 110.00,199.20 109.99,200.61 109.98,202.08 109.98,203.62 109.98,205.21 109.98,206.85 109.98,208.53 109.98,210.24 109.99,211.98 109.99,213.74 110.00,215.51 110.01,217.29 110.02,219.06 110.03,220.83 110.04,222.59 110.05,224.32 110.06,226.02 110.07,227.69 110.08,229.32 110.08,230.90 110.09,232.42 110.10,233.88 110.10,235.27 110.10,236.58 110.10,237.81 110.10,238.96 110.10,240.00 110.09,242.82 110.08,245.15 110.06,247.07 110.05,248.65 110.02,249.97 110.00,251.09 109.97,252.08 109.94,253.02 109.90,253.98 109.85,255.02 109.73,257.21 109.60,258.67 109.39,260.12 109.05,262.26 108.89,263.58 108.70,265.08 108.47,266.71 108.23,268.44 107.96,270.21 107.69,271.98 107.42,273.72 107.17,275.37 106.93,276.89 106.67,278.64 106.42,280.22 106.19,281.70 105.95,283.16 105.70,284.69 105.42,286.35 105.11,288.24 104.90,289.60 104.67,291.09 104.43,292.68 104.18,294.34 103.92,296.04 103.66,297.76 103.39,299.46 103.12,301.12 102.85,302.71 102.59,304.22 102.33,305.59 101.90,307.42 101.51,308.98 101.12,310.38 100.72,311.71 100.29,313.04 99.80,314.49 99.22,316.17 98.57,317.48 97.86,318.92 97.10,320.46 96.30,322.05 95.49,323.67 94.69,325.27 93.90,326.81 93.14,328.28 92.44,329.62 91.80,330.80 90.68,332.76 89.70,334.35 88.82,335.68 88.03,336.85 87.42,338.01 86.86,339.91 86.53,341.46 86.32,342.51" fill="none" stroke="#0000ff" stroke-width="2.0" stroke-linejoin="round"/>
</g>
<path d="M86.46,38.0v6.8M86.46,364.8v-6.8M98.73,38.0v6.8M98.73,364.8v-6.8M109.70,38.0v13.7M109.70,364.8v-13.7M181.89,38.0v6.8M181.89,364.8v-6.8M224.11,38.0v6.8M224.11,364.8v-6.8M254.07,38.0v6.8M254.07,364.8v-6.8M277.31,38.0v6.8M277.31,364.8v-6.8M296.30,38.0v6.8M296.30,364.8v-6.8M312.35,38.0v6.8M312.35,364.8v-6.8M326.26,38.0v6.8M326.26,364.8v-6.8M338.53,38.0v6.8M338.53,364.8v-6.8M349.50,38.0v13.7M349.50,364.8v-13.7M421.69,38.0v6.8M421.69,364.8v-6.8M463.91,38.0v6.8M463.91,364.8v-6.8M493.87,38.0v6.8M493.87,364.8v-6.8M517.11,38.0v6.8M517.11,364.8v-6.8M536.10,38.0v6.8M536.10,364.8v-6.8M552.15,38.0v6.8M552.15,364.8v-6.8M566.06,38.0v6.8M566.06,364.8v-6.8M578.33,38.0v6.8M578.33,364.8v-6.8M589.30,38.0v13.7M589.30,364.8v-13.7M85.75,342.22h6.8M613.3,342.22h-6.8M85.75,328.48h6.8M613.3,328.48h-6.8M85.75,318.74h6.8M613.3,318.74h-6.8M85.75,311.18h6.8M613.3,311.18h-6.8M85.75,305.00h6.8M613.3,305.00h-6.8M85.75,299.78h6.8M613.3,299.78h-6.8M85.75,295.26h6.8M613.3,295.26h-6.8M85.75,291.27h6.8M613.3,291.27h-6.8M85.75,287.70h13.7M613.3,287.70h-13.7M85.75,264.22h6.8M613.3,264.22h-6.8M85.75,250.48h6.8M613.3,250.48h-6.8M85.75,240.74h6.8M613.3,240.74h-6.8M85.75,233.18h6.8M613.3,233.18h-6.8M85.75,227.00h6.8M613.3,227.00h-6.8M85.75,221.78h6.8M613.3,221.78h-6.8M85.75,217.26h6.8M613.3,217.26h-6.8M85.75,213.27h6.8M613.3,213.27h-6.8M85.75,209.70h13.7M613.3,209.70h-13.7M85.75,186.22h6.8M613.3,186.22h-6.8M85.75,172.48h6.8M613.3,172.48h-6.8M85.75,162.74h6.8M613.3,162.74h-6.8M85.75,155.18h6.8M613.3,155.18h-6.8M85.75,149.00h6.8M613.3,149.00h-6.8M85.75,143.78h6.8M613.3,143.78h-6.8M85.75,139.26h6.8M613.3,139.26h-6.8M85.75,135.27h6.8M613.3,135.27h-6.8M85.75,131.70h13.7M613.3,131.70h-13.7M85.75,108.22h6.8M613.3,108.22h-6.8M85.75,94.48h6.8M613.3,94.48h-6.8M85.75,84.74h6.8M613.3,84.74h-6.8M85.75,77.18h6.8M613.3,77.18h-6.8M85.75,71.00h6.8M613.3,71.00h-6.8M85.75,65.78h6.8M613.3,65.78h-6.8M85.75,61.26h6.8M613.3,61.26h-6.8M85.75,57.27h6.8M613.3,57.27h-6.8M85.75,53.70h13.7M613.3,53.70h-13.7" stroke="#000" stroke-width="2.1" fill="none"/>
<rect x="85.75" y="38.0" width="527.55" height="326.8" fill="none" stroke="#000" stroke-width="2.25"/>
<clipPath id="hc3"><rect x="445" y="224.5" width="24.1" height="11"/></clipPath><path clip-path="url(#hc3)" d="M431.60,235.50l11.00,-11.00M436.20,235.50l11.00,-11.00M440.80,235.50l11.00,-11.00M445.40,235.50l11.00,-11.00M450.00,235.50l11.00,-11.00M454.60,235.50l11.00,-11.00M459.20,235.50l11.00,-11.00M463.80,235.50l11.00,-11.00M468.40,235.50l11.00,-11.00M473.00,235.50l11.00,-11.00" stroke="#0000ff" stroke-width="1.75" fill="none"/><path d="M445,225.05h24.1M445,234.75h24.1" stroke="#0000ff" stroke-width="2.3"/>
<clipPath id="hc4"><rect x="445" y="267.6" width="24.1" height="11"/></clipPath><path clip-path="url(#hc4)" d="M431.60,278.60l11.00,-11.00M436.20,278.60l11.00,-11.00M440.80,278.60l11.00,-11.00M445.40,278.60l11.00,-11.00M450.00,278.60l11.00,-11.00M454.60,278.60l11.00,-11.00M459.20,278.60l11.00,-11.00M463.80,278.60l11.00,-11.00M468.40,278.60l11.00,-11.00M473.00,278.60l11.00,-11.00" stroke="#ff0000" stroke-width="1.75" fill="none"/><path d="M445,268.25h24.1M445,277.7h24.1" stroke="#ff0000" stroke-width="2.3"/>
<rect x="445" y="299.5" width="24.25" height="9.5" fill="#96c896"/>
<rect x="445" y="323" width="24.25" height="9.5" fill="#b4b4b4"/>
<path d="M133.6,96.5h1.9M138.9,96.5h9.2M151.4,96.5h2.1" stroke="#686868" stroke-width="3.2"/>
<path d="M339.5,432.8L351.9,411.2M504.0,229.3L514.9,209.5M504.0,272.3L514.9,252.5M4.1,234.9L25.2,246.4M4.1,156.6L25.2,169.0" stroke="#000" stroke-width="1.9" fill="none" stroke-linecap="butt"/>
<circle cx="15.9" cy="204.5" r="2.5" fill="#000"/>
</svg>
<div id="tx" style="position:absolute;left:0;top:0;width:692px;height:692px;will-change:transform;transform:translateZ(0)"><div class="t" style="font-size:20.2px;letter-spacing:1.323px;-webkit-text-stroke:0.45px #000;left:36.90px;top:44.00px;">100</div>
<div class="t" style="font-size:20.2px;letter-spacing:0.173px;-webkit-text-stroke:0.45px #000;left:49.90px;top:122.20px;">10</div>
<div class="t" style="font-size:20.2px;-webkit-text-stroke:0.45px #000;left:63.49px;top:200.40px;transform:scaleX(0.6100);">1</div>
<div class="t" style="font-size:20.2px;letter-spacing:-0.018px;-webkit-text-stroke:0.45px #000;left:42.40px;top:278.10px;">0.1</div>
<div class="t" style="font-size:20.2px;-webkit-text-stroke:0.45px #000;left:105.62px;top:373.50px;transform:scaleX(0.6250);">1</div>
<div class="t" style="font-size:20.2px;letter-spacing:0.773px;-webkit-text-stroke:0.45px #000;left:339.00px;top:373.50px;">10</div>
<div class="t" style="font-size:20.2px;letter-spacing:1.273px;-webkit-text-stroke:0.45px #000;left:571.75px;top:373.50px;">100</div>
<div class="t" style="font-size:21.4px;-webkit-text-stroke:0.45px #000;left:327.10px;top:410.78px;transform:scaleX(0.7846);">T</div>
<div class="t" style="font-size:21.4px;-webkit-text-stroke:0.45px #000;left:354.00px;top:410.78px;transform:scaleX(0.7692);">T</div>
<div class="t" style="font-size:14.5px;font-weight:bold;-webkit-text-stroke:0.35px #000;left:364.20px;top:424.43px;transform:scaleX(0.9625);">c</div>
<div class="t" style="font-size:18.7px;-webkit-text-stroke:0.45px #000;left:162.77px;top:88.42px;transform:scaleX(0.9805);">HTL</div>
<div class="t" style="font-size:18.7px;-webkit-text-stroke:0.45px #000;left:209.01px;top:88.42px;transform:scaleX(0.9924);">NNLO</div>
<div class="t" style="font-size:18.7px;letter-spacing:1.976px;-webkit-text-stroke:0.45px #000;left:274.00px;top:88.42px;">fitted</div>
<div class="t" style="font-size:19.2px;font-style:italic;-webkit-text-stroke:0.5px #000;left:336.43px;top:88.75px;transform:scaleX(1.2333);">μ</div>
<div class="t" style="font-size:11.5px;font-weight:bold;-webkit-text-stroke:0.35px #000;left:350.30px;top:101.47px;transform:scaleX(0.9539);">HTL</div>
<div class="t" style="font-size:18.7px;-webkit-text-stroke:0.45px #000;left:481.74px;top:209.87px;transform:scaleX(1.0636);">N</div>
<div class="t" style="font-size:12.5px;font-weight:bold;-webkit-text-stroke:0.35px #000;left:495.80px;top:221.92px;transform:scaleX(0.9571);">s</div>
<div class="t" style="font-size:18.7px;-webkit-text-stroke:0.45px #000;left:516.84px;top:209.87px;transform:scaleX(1.0636);">N</div>
<div class="t" style="font-size:12.5px;font-weight:bold;-webkit-text-stroke:0.35px #000;left:531.30px;top:222.32px;transform:scaleX(0.7000);">t</div>
<div class="t" style="font-size:18.7px;-webkit-text-stroke:0.45px #000;left:537.80px;top:209.87px;transform:scaleX(1.2100);">=</div>
<div class="t" style="font-size:18.7px;letter-spacing:2.245px;-webkit-text-stroke:0.45px #000;left:482.20px;top:229.42px;">cont.</div>
<div class="t" style="font-size:18.7px;letter-spacing:1.494px;-webkit-text-stroke:0.45px #000;left:543.40px;top:229.42px;">limit</div>
<div class="t" style="font-size:18.7px;-webkit-text-stroke:0.45px #000;left:481.74px;top:252.87px;transform:scaleX(1.0636);">N</div>
<div class="t" style="font-size:12.5px;font-weight:bold;-webkit-text-stroke:0.35px #000;left:495.80px;top:264.92px;transform:scaleX(0.9571);">s</div>
<div class="t" style="font-size:18.7px;-webkit-text-stroke:0.45px #000;left:516.84px;top:252.87px;transform:scaleX(1.0636);">N</div>
<div class="t" style="font-size:12.5px;font-weight:bold;-webkit-text-stroke:0.35px #000;left:531.30px;top:265.32px;transform:scaleX(0.7000);">t</div>
<div class="t" style="font-size:18.7px;-webkit-text-stroke:0.45px #000;left:537.80px;top:252.87px;transform:scaleX(1.2100);">=</div>
<div class="t" style="font-size:18.7px;letter-spacing:2.245px;-webkit-text-stroke:0.45px #000;left:482.20px;top:272.42px;">cont.</div>
<div class="t" style="font-size:18.7px;letter-spacing:1.494px;-webkit-text-stroke:0.45px #000;left:543.40px;top:272.42px;">limit</div>
<div class="t" style="font-size:18.7px;letter-spacing:0.807px;-webkit-text-stroke:0.45px #000;left:555.20px;top:209.87px;">16</div>
<div class="t" style="font-size:18.7px;-webkit-text-stroke:0.45px #000;left:553.40px;top:252.87px;transform:scaleX(1.0900);">8</div>
<div class="t" style="font-size:18.7px;-webkit-text-stroke:0.45px #000;left:481.83px;top:295.97px;transform:scaleX(0.9702);">HTL</div>
<div class="t" style="font-size:18.7px;letter-spacing:0.006px;-webkit-text-stroke:0.45px #000;left:528.10px;top:295.97px;">NLO</div>
<div class="t" style="font-size:18.7px;-webkit-text-stroke:0.45px #000;left:481.83px;top:319.27px;transform:scaleX(0.9702);">HTL</div>
<div class="t" style="font-size:18.7px;letter-spacing:0.305px;-webkit-text-stroke:0.45px #000;left:528.10px;top:319.27px;">NNLO</div>
<div class="t" style="font-size:21.4px;-webkit-text-stroke:0.45px #000;left:0;top:0;transform:translate(3.18px,283.47px) rotate(-90deg) scaleX(0.6667);">I</div>
<div class="t" style="font-size:23.8px;-webkit-text-stroke:0.45px #000;left:0;top:0;transform:translate(1.25px,278.39px) rotate(-90deg) scaleX(0.9857);">(</div>
<div class="t" style="font-size:21.4px;-webkit-text-stroke:0.45px #000;left:0;top:0;transform:translate(3.18px,268.40px) rotate(-90deg) scaleX(0.7385);">T</div>
<div class="t" style="font-size:23.8px;-webkit-text-stroke:0.45px #000;left:0;top:0;transform:translate(1.25px,256.80px) rotate(-90deg) scaleX(0.9857);">)</div>
<div class="t" style="font-size:21.4px;-webkit-text-stroke:0.45px #000;left:0;top:0;transform:translate(3.18px,232.80px) rotate(-90deg) scaleX(0.7462);">T</div>
<div class="t" style="font-size:12.7px;font-weight:bold;-webkit-text-stroke:0.35px #000;left:0;top:0;transform:translate(3.95px,221.70px) rotate(-90deg) scaleX(1.0857);">4</div>
<div class="t" style="font-size:23.8px;-webkit-text-stroke:0.45px #000;left:0;top:0;transform:translate(1.25px,190.47px) rotate(-90deg) scaleX(0.8714);">(</div>
<div class="t" style="font-size:21.4px;-webkit-text-stroke:0.45px #000;left:0;top:0;transform:translate(3.18px,180.90px) rotate(-90deg) scaleX(0.7538);">T</div>
<div class="t" style="font-size:21.4px;-webkit-text-stroke:0.45px #000;left:0;top:0;transform:translate(3.18px,154.20px) rotate(-90deg) scaleX(0.7462);">T</div>
<div class="t" style="font-size:14.5px;font-weight:bold;-webkit-text-stroke:0.35px #000;left:0;top:0;transform:translate(16.93px,143.80px) rotate(-90deg) scaleX(0.8625);">c</div>
<div class="t" style="font-size:23.8px;-webkit-text-stroke:0.45px #000;left:0;top:0;transform:translate(1.25px,135.10px) rotate(-90deg) scaleX(0.9429);">)</div>
<div class="t" style="font-size:15.5px;font-weight:bold;-webkit-text-stroke:0.35px #000;left:0;top:0;transform:translate(1.78px,126.50px) rotate(-90deg) scaleX(0.9500);">2</div></div>
</div></body></html>
